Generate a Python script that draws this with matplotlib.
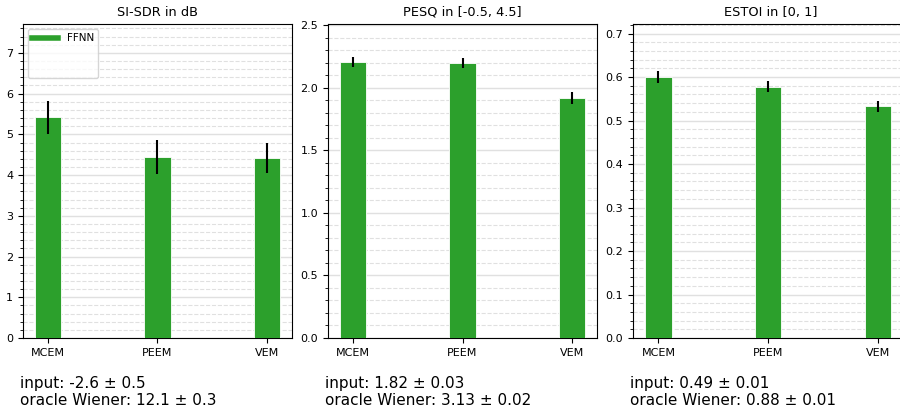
import matplotlib
matplotlib.use("Agg")
import matplotlib.pyplot as plt
from matplotlib.lines import Line2D

# data
methods = ["MCEM", "PEEM", "VEM"]
titles = ["SI-SDR in dB", "PESQ in [-0.5, 4.5]", "ESTOI in [0, 1]"]

sisdr_mean = [5.42, 4.45, 4.43]
sisdr_err = [0.40, 0.42, 0.37]
pesq_mean = [2.21, 2.20, 1.92]
pesq_err = [0.04, 0.04, 0.05]
estoi_mean = [0.600, 0.578, 0.533]
estoi_err = [0.013, 0.013, 0.013]

ylims = [7.71, 2.51, 0.722]
notes = ["input: -2.6 \u00b1 0.5\noracle Wiener: 12.1 \u00b1 0.3",
         "input: 1.82 \u00b1 0.03\noracle Wiener: 3.13 \u00b1 0.02",
         "input: 0.49 \u00b1 0.01\noracle Wiener: 0.88 \u00b1 0.01"]

means = [sisdr_mean, pesq_mean, estoi_mean]
errs = [sisdr_err, pesq_err, estoi_err]

W, H = 900, 411
fig = plt.figure(figsize=(9, 4.11), dpi=100)
lefts = [23, 328, 633]
widths = [269, 269, 276]
green = "#2ca02c"

for k in range(3):
    l = lefts[k]
    ax = fig.add_axes([l / W, (H - 338) / H, widths[k] / W, 314 / H])
    x = list(range(len(methods)))
    ax.bar(x, means[k], width=0.24, color=green, edgecolor="white",
           linewidth=0.6, zorder=3)
    ax.errorbar(x, means[k], yerr=errs[k], fmt="none", ecolor="black",
                elinewidth=1.5, capsize=0, zorder=4)
    ax.set_xticks(x)
    ax.set_xticklabels(methods)
    if k == 2:
        # right edge of this panel is cut off in the reference
        ax.set_xlim(-0.232, 2.284)
    else:
        ax.set_xlim(-0.232, 2.232)
    ax.set_ylim(0, ylims[k])
    ax.minorticks_on()
    ax.tick_params(axis="x", which="minor", bottom=False)
    ax.tick_params(labelsize=8)
    ax.grid(which="major", axis="y", color="#e0e0e0", linestyle="-", linewidth=1, zorder=0)
    ax.grid(which="minor", axis="y", color="#e0e0e0", linestyle="--", linewidth=0.8, zorder=0)
    ax.set_axisbelow(True)
    ax.set_title(titles[k], fontsize=9.3)
    fig.text((l - 3) / W, 1 - 376 / H, notes[k], fontsize=11, va="top", ha="left")
    if k == 0:
        handles = [Line2D([], [], color=green, lw=4),
                   Line2D([], [], color="none"),
                   Line2D([], [], color="none")]
        ax.legend(handles, ["FFNN", " ", " "], loc="upper left", fontsize=7.5,
                  handlelength=2.5)

fig.savefig("out.png", dpi=100)
